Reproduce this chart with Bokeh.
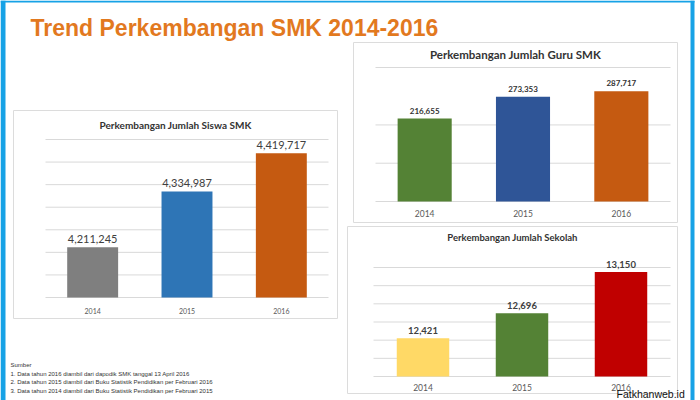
from bokeh.plotting import figure
from bokeh.models import Range1d
from bokeh.core.properties import value
from bokeh.embed import file_html
from bokeh.resources import INLINE

# ---------------- data ----------------
years = ["2014", "2015", "2016"]

siswa = [4211245, 4334987, 4419717]
siswa_colors = ["#7F7F7F", "#2E75B6", "#C55A11"]
siswa_ticks = [4100000, 4150000, 4200000, 4250000, 4300000, 4350000, 4400000, 4450000]

guru = [216655, 273353, 287717]
guru_colors = ["#548235", "#2F5597", "#C55A11"]
guru_ticks = [0, 100000, 200000, 350000]

sekolah = [12421, 12696, 13150]
sekolah_colors = ["#FFD966", "#548235", "#C00000"]
sekolah_ticks = [12000, 12200, 12400, 12600, 12800, 13000, 13200]

main_title = "Trend Perkembangan SMK 2014-2016"
notes = [
    "Sumber",
    "1. Data tahun 2016 diambil dari dapodik SMK tanggal 13 April 2016",
    "2. Data tahun 2015 diambil dari Buku Statistik Pendidikan per Februari 2016",
    "3. Data tahun 2014 diambil dari Buku Statistik Pendidikan per Februari 2015",
]
watermark = "Fatkhanweb.id"

# ---------------- canvas ----------------
W, H = 700, 400
p = figure(width=W, height=H, x_range=Range1d(0, W), y_range=Range1d(H, 0),
           output_backend="svg", toolbar_location=None, min_border=0,
           x_axis_location=None, y_axis_location=None)
p.grid.visible = False
p.outline_line_color = None
p.background_fill_color = "white"
p.border_fill_color = "white"

BLUE = "#17A2E6"
# frame
p.quad(left=[0], right=[5], top=[0], bottom=[H], fill_color=BLUE, line_color=None)
p.quad(left=[0], right=[694], top=[0], bottom=[2], fill_color=BLUE, line_color=None)
p.quad(left=[690], right=[694], top=[0], bottom=[H], fill_color=BLUE, line_color=None)

# main title
p.text(x=[30], y=[27], text=[main_title], text_font=value("Liberation Sans"),
       text_font_style="bold", text_font_size="23px", text_color="#E2791F",
       text_baseline="alphabetic", text_align="left")

charts = [
    dict(name="siswa", box=(13, 337, 110, 318), plot=(45, 328, 139, 297),
         title="Perkembangan Jumlah Siswa SMK", title_y=124, title_size="10px",
         values=siswa, colors=siswa_colors, ticks=siswa_ticks,
         vsize="11px", vstyle="normal", vcolor="#404040", voff=-4,
         csize="7px", coff=13, width=0.54),
    dict(name="guru", box=(353, 677, 42, 222), plot=(375, 670, 67, 201),
         title="Perkembangan Jumlah Guru SMK", title_y=54, title_size="11.5px",
         values=guru, colors=guru_colors, ticks=guru_ticks,
         vsize="8px", vstyle="bold", vcolor="#333333", voff=-5,
         csize="8.5px", coff=12, width=0.55),
    dict(name="sekolah", box=(347, 677, 226, 393), plot=(373, 670, 267, 376),
         title="Perkembangan Jumlah Sekolah", title_y=237, title_size="9.5px",
         values=sekolah, colors=sekolah_colors, ticks=sekolah_ticks,
         vsize="9.5px", vstyle="bold", vcolor="#404040", voff=-4,
         csize="8.5px", coff=11, width=0.53),
]

for c in charts:
    bx0, bx1, by0, by1 = c["box"]
    p.quad(left=[bx0], right=[bx1], top=[by0], bottom=[by1], fill_color="white",
           line_color="#DCDCDC", line_width=1)
    p.text(x=[(bx0 + bx1) / 2], y=[c["title_y"]], text=[c["title"]],
           text_font=value("Lato"), text_font_style="bold",
           text_font_size=c["title_size"], text_color="#333333",
           text_align="center", text_baseline="middle")

    px0, px1, py_top, py_bot = c["plot"]
    n = len(years)
    ticks = c["ticks"]
    vmin, vmax = ticks[0], ticks[-1]
    sx = n / (px1 - px0)
    sy = (vmax - vmin) / (py_bot - py_top)
    xname, yname = c["name"] + "_x", c["name"] + "_y"
    p.extra_x_ranges[xname] = Range1d(start=-px0 * sx, end=(W - px0) * sx)
    p.extra_y_ranges[yname] = Range1d(start=vmin - (H - py_bot) * sy, end=vmax + py_top * sy)
    kw = dict(x_range_name=xname, y_range_name=yname)

    p.segment(x0=[0] * len(ticks), x1=[n] * len(ticks), y0=ticks, y1=ticks,
              line_color="#D9D9D9", line_width=1, **kw)
    xs = [i + 0.5 for i in range(n)]
    p.vbar(x=xs, top=c["values"], bottom=vmin, width=c["width"],
           fill_color=c["colors"], line_color=None, **kw)
    p.text(x=xs, y=c["values"], text=[f"{v:,}" for v in c["values"]],
           text_font=value("Lato"), text_font_style=c["vstyle"],
           text_font_size=c["vsize"], text_color=c["vcolor"],
           text_align="center", text_baseline="bottom", y_offset=c["voff"], **kw)
    p.text(x=xs, y=[vmin] * n, text=years, text_font=value("Lato"),
           text_font_size=c["csize"], text_color="#595959",
           text_align="center", text_baseline="middle", y_offset=c["coff"], **kw)

# footnotes
note_y = [364, 373, 381, 390]
p.text(x=[10] * len(notes), y=note_y, text=notes, text_font=value("Liberation Sans"),
       text_font_size="6px", text_color="#333333", text_align="left",
       text_baseline="middle")

# watermark
p.text(x=[616], y=[393], text=[watermark], text_font=value("Liberation Sans"),
       text_font_size="10.5px", text_color="#111111", text_align="left",
       text_baseline="alphabetic")

open("out.html", "w").write(file_html(p, INLINE))
